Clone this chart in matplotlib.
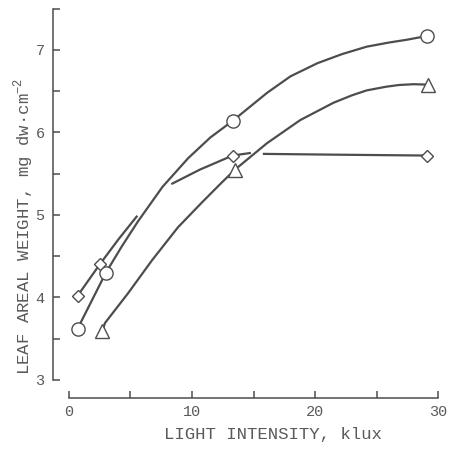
import numpy as np
import matplotlib.pyplot as plt
from matplotlib.ticker import MultipleLocator

plt.rcParams['font.family'] = ['Liberation Mono', 'DejaVu Sans']
plt.rcParams['mathtext.fontset'] = 'custom'
plt.rcParams['mathtext.rm'] = 'Liberation Mono'

# measured points (klux, mg dw/cm2)
light_circle = [0.7, 3.0, 13.3, 29.1]
weight_circle = [3.62, 4.30, 6.14, 7.17]
light_diamond = [0.7, 2.5, 13.3, 29.1]
weight_diamond = [4.02, 4.40, 5.72, 5.72]
light_triangle = [2.7, 13.5, 29.2]
weight_triangle = [3.59, 5.55, 6.58]

# hand-drawn curves
curve_circle_x = [0.7, 3.0, 4.3, 5.6, 7.6, 9.7, 11.5, 13.3, 16.1, 18.0, 20.2, 22.2, 24.2, 26.0, 27.5, 29.1]
curve_circle_y = [3.62, 4.30, 4.62, 4.92, 5.34, 5.69, 5.94, 6.14, 6.48, 6.68, 6.84, 6.95, 7.04, 7.09, 7.125, 7.17]
curve_triangle_x = [2.7, 2.93, 4.8, 6.75, 8.86, 10.8, 12.4, 13.5, 16.1, 18.8, 21.5, 23.0, 24.2, 25.8, 26.8, 28.0, 29.2]
curve_triangle_y = [3.59, 3.69, 4.05, 4.45, 4.85, 5.15, 5.39, 5.55, 5.87, 6.15, 6.36, 6.45, 6.51, 6.555, 6.575, 6.585, 6.58]
# diamond curve is drawn with gaps where it crosses the other curves
curve_diamond_x = [0.7, 2.5, 4.0, 5.5, np.nan, 8.4, 10.65, 13.3, 14.7, np.nan, 15.85, 22.0, 29.1]
curve_diamond_y = [4.02, 4.40, 4.70, 4.98, np.nan, 5.38, 5.55, 5.72, 5.75, np.nan, 5.74, 5.73, 5.72]

line_col = '#4d4d4d'
text_col = '#5a5a5a'

fig = plt.figure(figsize=(4.49, 4.49), dpi=100)
ax = fig.add_axes([53 / 449, 51 / 449, 388.7 / 449, 389.25 / 449])

ax.plot(curve_circle_x, curve_circle_y, color=line_col, lw=1.6, zorder=2)
ax.plot(curve_triangle_x, curve_triangle_y, color=line_col, lw=1.6, zorder=2)
ax.plot(curve_diamond_x, curve_diamond_y, color=line_col, lw=1.6, zorder=2)

mk = dict(linestyle='none', markerfacecolor='white', markeredgecolor=line_col,
          markeredgewidth=1.0, zorder=3)
ax.plot(light_circle, weight_circle, marker='o', markersize=9.5, **mk)
ax.plot(light_diamond, weight_diamond, marker='D', markersize=6.3, **mk)
ax.plot(light_triangle, weight_triangle, marker='^', markersize=10, **mk)

ax.set_xlim(-1.3, 30.3)
ax.set_ylim(2.78, 7.5)

for s in ['top', 'right']:
    ax.spines[s].set_visible(False)
ax.spines['left'].set_bounds(3, 7.5)
ax.spines['bottom'].set_bounds(0, 30)
for s in ['left', 'bottom']:
    ax.spines[s].set_color(line_col)
    ax.spines[s].set_linewidth(1.1)

ax.xaxis.set_major_locator(MultipleLocator(10))
ax.xaxis.set_minor_locator(MultipleLocator(5))
ax.yaxis.set_major_locator(MultipleLocator(1))
ax.yaxis.set_minor_locator(MultipleLocator(0.5))
ax.tick_params(which='both', direction='in', length=5, width=1.1, color=line_col,
               labelcolor=text_col, labelsize=11)
ax.tick_params(axis='x', pad=5)
ax.tick_params(axis='y', pad=6)

ax.set_xlabel('LIGHT INTENSITY, klux', fontsize=12.5, color=text_col)
ax.set_ylabel('LEAF AREAL WEIGHT, mg dw\u00b7cm$^{-2}$', fontsize=12.5, color=text_col)
ax.xaxis.set_label_coords(0.565, -0.075)
ax.yaxis.set_label_coords(-0.045, 0.44)

fig.savefig('out.png', dpi=100)
